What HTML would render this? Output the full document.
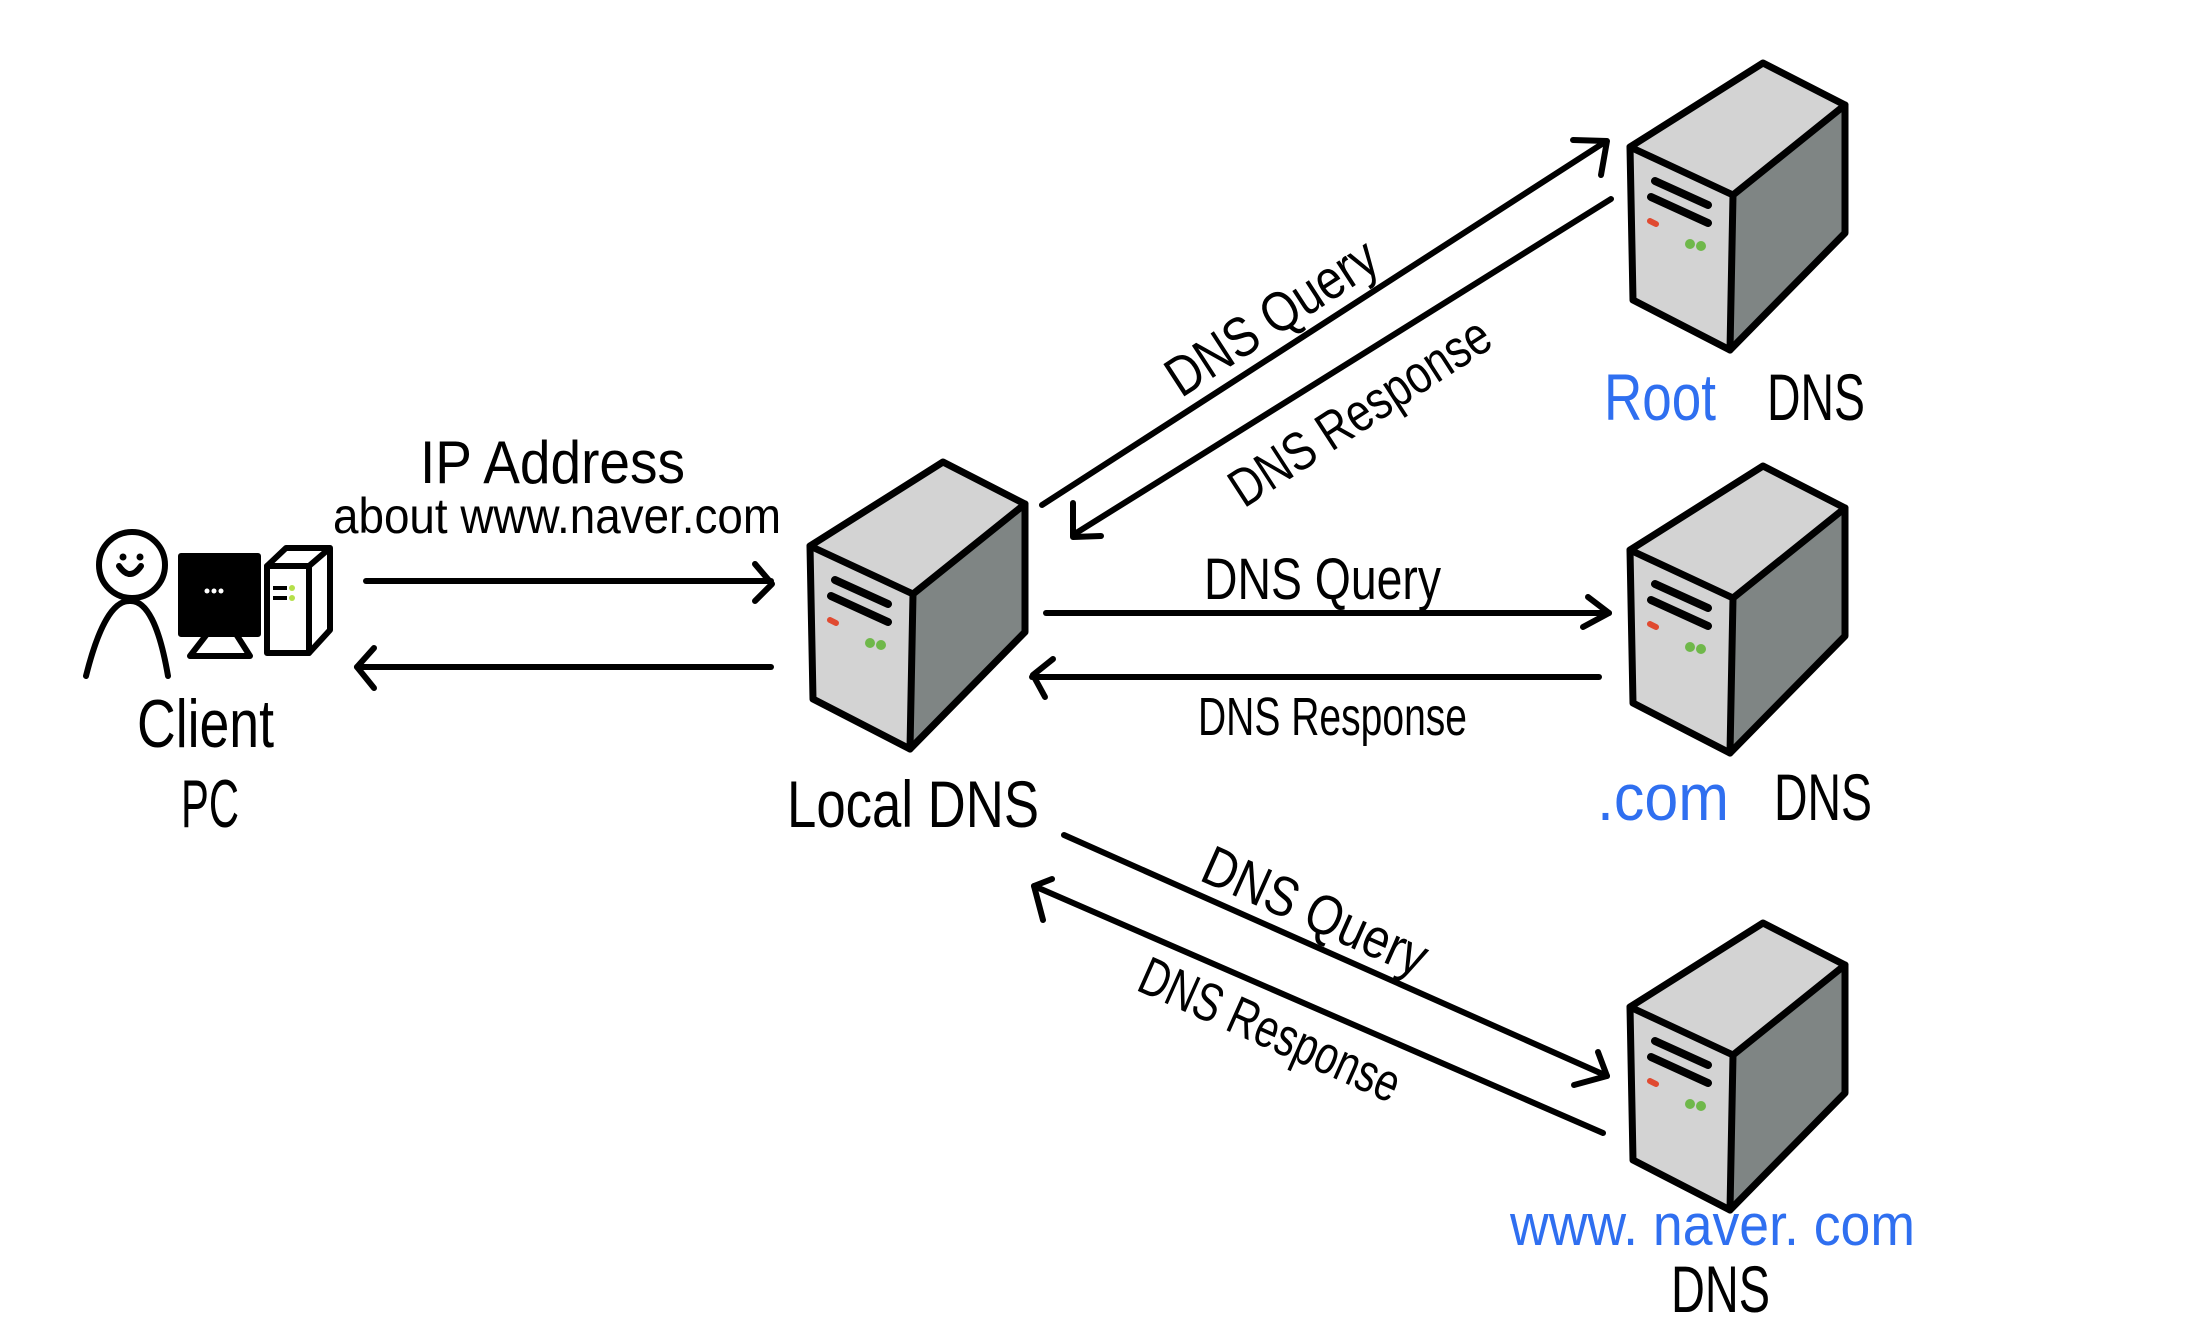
<!DOCTYPE html>
<html><head><meta charset="utf-8"><style>
html,body{margin:0;padding:0;background:#fff;}
svg{display:block}
text{font-family:"Liberation Sans Narrow","Liberation Sans",sans-serif;fill:#000;}
.b{fill:#2f6ff0}
</style></head><body>
<svg width="2186" height="1329" viewBox="0 0 2186 1329" xmlns="http://www.w3.org/2000/svg">
<defs>
<g id="srv">
<polygon points="0,0 82,42 -30,132 -133,84" fill="#d3d3d3"/>
<polygon points="-133,84 -30,132 -33,287 -130,237" fill="#d3d3d3"/>
<polygon points="-30,132 82,42 82,170 -33,287" fill="#7f8584"/>
<g fill="none" stroke="#000" stroke-width="7" stroke-linejoin="round" stroke-linecap="round">
<path d="M0,0 L82,42 L82,170 L-33,287 L-130,237 L-133,84 Z"/>
<path d="M-133,84 L-30,132 L82,42"/>
<path d="M-30,132 L-33,287"/>
</g>
<g stroke="#000" stroke-width="8" stroke-linecap="round">
<line x1="-108" y1="118" x2="-55" y2="142"/>
<line x1="-112" y1="134" x2="-55" y2="160"/>
</g>
<line x1="-113" y1="158" x2="-107" y2="161" stroke="#e04a30" stroke-width="6" stroke-linecap="round"/>
<circle cx="-73" cy="181" r="5" fill="#6fb84a"/>
<circle cx="-62" cy="183" r="5" fill="#6fb84a"/>
</g>
</defs>

<use href="#srv" x="1763" y="63"/>
<use href="#srv" x="1763" y="466"/>
<use href="#srv" x="1763" y="923"/>
<use href="#srv" x="943" y="462"/>

<!-- client -->
<g fill="none" stroke="#000" stroke-width="6" stroke-linecap="round" stroke-linejoin="round">
<circle cx="132" cy="565" r="33"/>
<path d="M86,676 Q105,600 130,601 Q155,600 168,676"/>
<path d="M119,566 Q130,582 141,566"/>
<rect x="181" y="556" width="77" height="78" fill="#000"/>
<path d="M207,634 L190,656 L250,656 L236,634"/>
<path d="M267,566 L309,566 L309,653 L267,653 Z"/>
<path d="M267,566 L286,548 L330,548 L330,630 L309,653 M309,566 L330,548"/>
</g>
<circle cx="123" cy="557" r="3.5"/><circle cx="140" cy="557" r="3.5"/>
<g fill="#fff"><circle cx="207" cy="591" r="2.5"/><circle cx="214" cy="591" r="2.5"/><circle cx="221" cy="591" r="2.5"/></g>
<line x1="273" y1="588" x2="287" y2="588" stroke="#000" stroke-width="4"/>
<line x1="273" y1="598" x2="287" y2="598" stroke="#000" stroke-width="4"/>
<circle cx="292" cy="588" r="3" fill="#b5e04a"/><circle cx="292" cy="598" r="3" fill="#b5e04a"/>

<!-- arrows -->
<g fill="none" stroke="#000" stroke-width="6" stroke-linecap="round" stroke-linejoin="round">
<line x1="366" y1="581" x2="771" y2="581"/><path d="M755,564 L772,584 L755,601"/>
<line x1="771" y1="667" x2="357" y2="667"/><path d="M374,648 L357,667 L374,688"/>
<line x1="1042" y1="505" x2="1605" y2="142"/><path d="M1573,140 L1607,141 L1601,175"/>
<line x1="1611" y1="199" x2="1073" y2="535"/><path d="M1073,503 L1073,537 L1101,536"/>
<line x1="1046" y1="613" x2="1609" y2="613"/><path d="M1588,597 L1609,613 L1583,627"/>
<line x1="1599" y1="677" x2="1032" y2="677"/><path d="M1053,659 L1033,675 L1045,697"/>
<line x1="1064" y1="835" x2="1607" y2="1076"/><path d="M1598,1052 L1607,1076 L1574,1085"/>
<line x1="1603" y1="1133" x2="1034" y2="886"/><path d="M1052,879 L1034,886 L1043,920"/>
</g>

<!-- labels -->
<text x="420" y="483" font-size="60" textLength="265" lengthAdjust="spacingAndGlyphs">IP Address</text>
<text x="333" y="533" font-size="50" textLength="448" lengthAdjust="spacingAndGlyphs">about  www.naver.com</text>
<text x="137" y="747" font-size="68" textLength="137" lengthAdjust="spacingAndGlyphs">Client</text>
<text x="181" y="827" font-size="68" textLength="58" lengthAdjust="spacingAndGlyphs">PC</text>
<text x="787" y="827" font-size="66" textLength="252" lengthAdjust="spacingAndGlyphs">Local  DNS</text>
<text x="1604" y="420" font-size="66" textLength="112" lengthAdjust="spacingAndGlyphs" class="b">Root</text>
<text x="1767" y="420" font-size="66" textLength="98" lengthAdjust="spacingAndGlyphs">DNS</text>
<text x="1597" y="820" font-size="66" textLength="132" lengthAdjust="spacingAndGlyphs" class="b">.com</text>
<text x="1774" y="820" font-size="66" textLength="98" lengthAdjust="spacingAndGlyphs">DNS</text>
<text x="1510" y="1245" font-size="58" textLength="405" lengthAdjust="spacingAndGlyphs" class="b">www. naver. com</text>
<text x="1671" y="1312" font-size="66" textLength="99" lengthAdjust="spacingAndGlyphs">DNS</text>

<text x="1204" y="599" font-size="58" textLength="237" lengthAdjust="spacingAndGlyphs">DNS  Query</text>
<text x="1198" y="735" font-size="54" textLength="269" lengthAdjust="spacingAndGlyphs">DNS  Response</text>
<g transform="translate(1272,318) rotate(-33)"><text x="0" y="18" font-size="56" text-anchor="middle" textLength="240" lengthAdjust="spacingAndGlyphs">DNS  Query</text></g>
<g transform="translate(1360,412) rotate(-33)"><text x="0" y="18" font-size="54" text-anchor="middle" textLength="300" lengthAdjust="spacingAndGlyphs">DNS  Response</text></g>
<g transform="translate(1315,912) rotate(24)"><text x="0" y="18" font-size="56" text-anchor="middle" textLength="240" lengthAdjust="spacingAndGlyphs">DNS  Query</text></g>
<g transform="translate(1270,1030) rotate(24)"><text x="0" y="18" font-size="54" text-anchor="middle" textLength="280" lengthAdjust="spacingAndGlyphs">DNS  Response</text></g>
</svg>
</body></html>
